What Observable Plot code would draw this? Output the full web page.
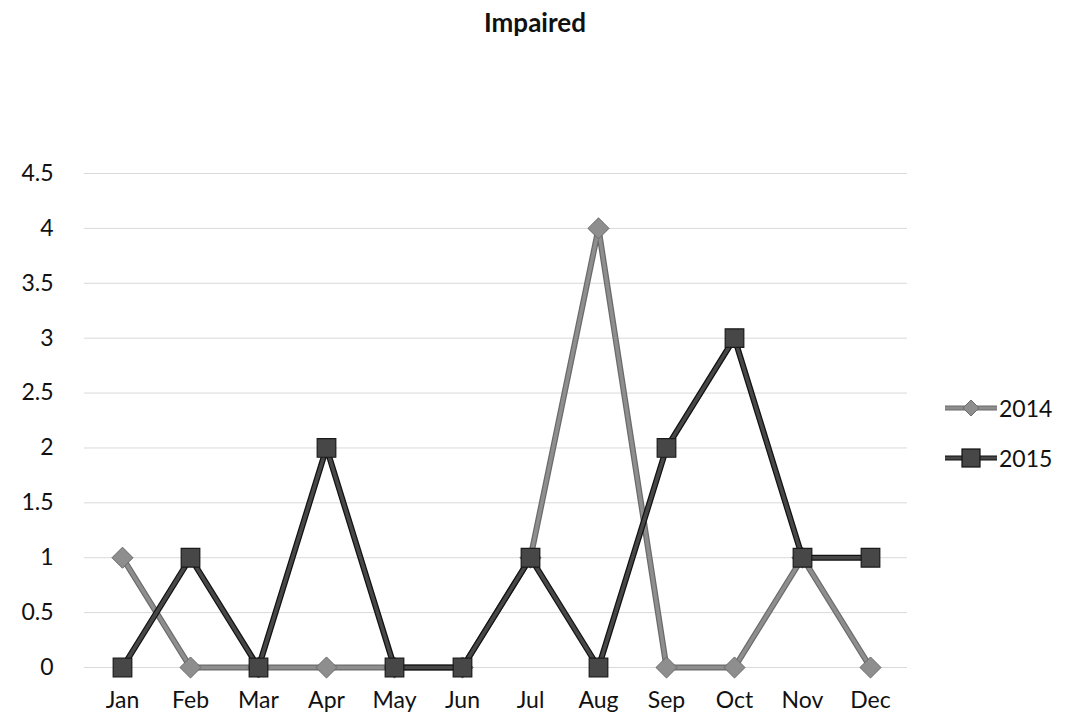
<!DOCTYPE html>
<html>
<head>
<meta charset="utf-8">
<script src="https://cdn.jsdelivr.net/npm/d3@7"></script>
<script src="https://cdn.jsdelivr.net/npm/@observablehq/plot@0.6"></script>
<style>
  body { margin: 0; background: #fff; font-family: Lato, "Open Sans", sans-serif; }
  #wrap { position: relative; width: 1070px; height: 728px; }
  #title { position: absolute; left: 0; width: 1070px; top: 6px; text-align: center; font-weight: bold; font-size: 26px; color: #111; }
  #legend { position: absolute; left: 944px; top: 391px; font-size: 23px; color: #111; }
  #legend .item { display: flex; align-items: center; height: 33px; margin-bottom: 17px; }
  #legend svg { margin-right: 1px; }
  #chart { position: absolute; left: 0; top: 0; }
</style>
</head>
<body>
<div id="wrap">
  <div id="chart"></div>
  <div id="title">Impaired</div>
  <div id="legend"></div>
</div>
<script>
const months = ["Jan","Feb","Mar","Apr","May","Jun","Jul","Aug","Sep","Oct","Nov","Dec"];
const series = ["2014", "2015"];
const values2014 = [1, 0, 0, 0, 0, 0, 1, 4, 0, 0, 1, 0];
const values2015 = [0, 1, 0, 2, 0, 0, 1, 0, 2, 3, 1, 1];
const yTicks = [0, 0.5, 1, 1.5, 2, 2.5, 3, 3.5, 4, 4.5];

const d2014 = months.map((m, i) => ({month: m, value: values2014[i], series: series[0]}));
const d2015 = months.map((m, i) => ({month: m, value: values2015[i], series: series[1]}));

const chart = Plot.plot({
  width: 1070,
  height: 728,
  marginTop: 173,
  marginBottom: 61,
  marginLeft: 84,
  marginRight: 163,
  style: {fontFamily: "Lato, 'Open Sans', sans-serif", fontSize: "23px", color: "#111", background: "transparent"},
  x: {type: "point", domain: months, padding: 0.5, label: null},
  y: {domain: [0, 4.5], label: null},
  marks: [
    Plot.ruleY(yTicks, {stroke: "#d9d9d9", strokeWidth: 1}),
    Plot.axisX({tickSize: 0, tickPadding: 24, fontSize: 23}),
    Plot.axisY({ticks: yTicks, tickSize: 0, tickPadding: 31, fontSize: 23, tickFormat: d => String(d)}),
    Plot.line(d2014, {x: "month", y: "value", stroke: "#6a6a6a", strokeWidth: 6}),
    Plot.line(d2014, {x: "month", y: "value", stroke: "#8e8e8e", strokeWidth: 3.5}),
    Plot.dot(d2014, {x: "month", y: "value", symbol: "diamond2", r: 9.5, fill: "#8e8e8e", stroke: "#6a6a6a", strokeWidth: 1}),
    Plot.line(d2015, {x: "month", y: "value", stroke: "#111", strokeWidth: 6}),
    Plot.line(d2015, {x: "month", y: "value", stroke: "#474747", strokeWidth: 3.5}),
    Plot.dot(d2015, {x: "month", y: "value", symbol: "square", r: 10.5, fill: "#474747", stroke: "#1a1a1a", strokeWidth: 1.2})
  ]
});
document.getElementById("chart").appendChild(chart);

const legend = document.getElementById("legend");
const legendStyles = [
  {name: series[0], outer: "#6a6a6a", inner: "#8e8e8e", marker: "diamond"},
  {name: series[1], outer: "#111", inner: "#474747", marker: "square"}
];
legendStyles.forEach(s => {
  const item = document.createElement("div");
  item.className = "item";
  const marker = s.marker === "diamond"
    ? `<polygon points="27,8 35,16 27,24 19,16" fill="${s.inner}" stroke="${s.outer}" stroke-width="1"/>`
    : `<rect x="18" y="7" width="18" height="18" fill="${s.inner}" stroke="${s.outer}" stroke-width="1.2"/>`;
  item.innerHTML = `<svg width="54" height="32"><line x1="1" y1="16" x2="53" y2="16" stroke="${s.outer}" stroke-width="5"/><line x1="1" y1="16" x2="53" y2="16" stroke="${s.inner}" stroke-width="3"/>${marker}</svg><span>${s.name}</span>`;
  legend.appendChild(item);
});
</script>
</body>
</html>
